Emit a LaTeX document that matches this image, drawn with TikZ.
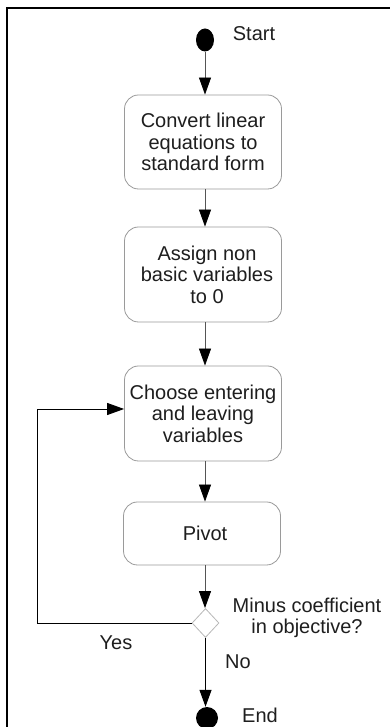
\documentclass[tikz,border=0pt]{standalone}
\usepackage{fontspec}
\setmainfont{Liberation Sans}
\usetikzlibrary{arrows.meta,shapes.geometric}
\definecolor{boxline}{HTML}{9A9A9A}
\definecolor{conn}{HTML}{555555}
\definecolor{txt}{HTML}{1E1E1E}
\tikzset{
  x=1pt,y=1pt,
  every node/.style={font=\fontsize{20}{21.5}\selectfont, text=txt},
  stepbox/.style={draw=boxline, line width=0.8pt, rounded corners=14pt, fill=white,
    minimum width=157pt, align=center, inner sep=0pt},
  tip/.style={-{Triangle[length=17pt,width=12pt,color=black,fill=black]}},
  flow/.style={draw=conn, line width=0.8pt, tip},
  dot/.style={fill=black, draw=none, ellipse, inner sep=0pt},
  decision/.style={diamond, draw=boxline!70, line width=0.8pt, fill=white, inner sep=0pt,
    minimum width=27pt, minimum height=29pt},
  plainline/.style={draw=black, line width=0.9pt}
}
\begin{document}
\begin{tikzpicture}
\useasboundingbox (0,0) rectangle (390,727);
% frame
\draw[line width=1.6pt] (7,-2) -- (7,719) -- (392,719);
% nodes
\node[dot, minimum width=18pt, minimum height=23pt] (start) at (205,687) {};
\node (startlbl) at (254,693) {Start};
\node[stepbox, minimum height=94pt] (b1) at (203,585) {Convert linear\\equations to\\standard form};
\node[stepbox, minimum height=95pt] (b2) at (203,452.5) {\hspace*{8pt}Assign non\\\hspace*{8pt}basic variables\\\hspace*{8pt}to 0};
\node[stepbox, minimum height=95pt] (b3) at (203,313.5) {Choose entering\\and leaving\\variables};
\node[stepbox, minimum height=63pt] (b4) at (202,193.5) {\hspace*{6pt}Pivot};
\node[decision] (dia) at (205.5,104) {};
\node[align=center] (q) at (307,109) {Minus coefficient\\in objective?};
\node (yes) at (116,84) {Yes};
\node (no) at (238,65) {No};
\node[dot, minimum width=22pt, minimum height=22pt] (end) at (207,9) {};
\node (endlbl) at (260,12) {End};
% connectors
\draw[flow] (start.south) -- (start.south |- b1.north);
\draw[flow] (b1.south -| start) -- (start |- b2.north);
\draw[flow] (b2.south -| start) -- (start |- b3.north);
\draw[flow] (b3.south -| start) -- (start |- b4.north);
\draw[flow] (b4.south -| start) -- (start |- dia.north);
\coordinate (c1) at (37,104);
\coordinate (c2) at (37,318);
\draw[plainline] (dia.west) -- (c1) -- (c2);
\draw[plainline, tip] (c2) -- (c2 -| b3.west);
\draw[draw=black, line width=1.2pt, tip] (dia.south) -- (dia.south |- end.north);
\end{tikzpicture}
\end{document}
